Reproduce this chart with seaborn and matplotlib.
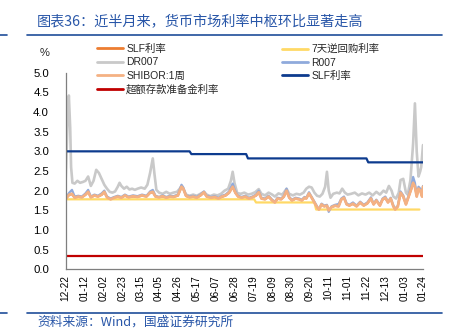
import numpy as np
import pandas as pd
import matplotlib
matplotlib.use("Agg")
import matplotlib.pyplot as plt
import seaborn as sns
from matplotlib.lines import Line2D
from matplotlib.ticker import FormatStrFormatter

# ---------------- data (x values are days since 2022-12-22) ----------------
START = pd.Timestamp("2022-12-22")
END = pd.Timestamp("2024-01-24")

tick_dates = ["2022-12-22", "2023-01-12", "2023-02-02", "2023-02-23", "2023-03-15",
              "2023-04-05", "2023-04-26", "2023-05-17", "2023-06-07", "2023-06-28",
              "2023-07-19", "2023-08-09", "2023-08-30", "2023-09-20", "2023-10-11",
              "2023-11-01", "2023-11-22", "2023-12-13", "2024-01-03", "2024-01-24"]
tick_labels = ["12-22", "01-12", "02-02", "02-23", "03-15", "04-05", "04-26", "05-17",
               "06-07", "06-28", "07-19", "08-09", "08-30", "09-20", "10-11", "11-01",
               "11-22", "12-13", "01-03", "01-24"]

# DR007
dr_days = [0, 2, 3.5, 5, 6, 7.5, 10, 13, 16, 19, 22, 25, 28, 31, 34, 37, 40, 43, 46, 49,
           52, 55, 58, 60, 62, 65, 68, 71, 74, 77, 80, 84, 88, 91, 94, 97, 99, 101, 104, 108,
           112, 116, 120, 124, 127, 129, 131, 134, 138, 142, 146, 150, 154, 157, 161, 165, 169, 173, 177, 181,
           184, 186, 188, 191, 195, 199, 203, 207, 211, 215, 218, 222, 226, 230, 233, 237, 241, 243, 246, 249,
           253, 257, 261, 265, 268, 271, 274, 277, 280, 283, 286, 289, 291, 293, 295, 298, 302, 305, 308, 311,
           314, 318, 322, 326, 330, 334, 338, 342, 346, 350, 354, 357, 360, 363, 365, 368, 371, 373, 376, 379,
           381, 384, 387, 389, 391, 393, 395, 396, 398]
dr007 = [2.30, 3.70, 4.42, 3.60, 2.60, 2.20, 2.18, 2.25, 2.20, 2.22, 2.25, 2.36, 2.12, 2.25, 2.53, 2.45, 2.30, 2.15, 2.05, 1.97,
         1.95, 1.98, 2.10, 2.20, 2.12, 2.05, 2.10, 2.03, 2.05, 2.02, 2.05, 2.08, 2.05, 2.15, 2.45, 2.82, 2.40, 2.02, 1.95, 1.92,
         1.97, 1.92, 1.95, 1.97, 2.05, 2.12, 2.05, 1.90, 1.87, 1.90, 1.87, 1.92, 1.97, 1.90, 1.86, 1.90, 1.88, 1.92, 2.00, 2.05,
         2.25, 2.48, 2.20, 1.94, 1.92, 1.95, 1.90, 1.92, 1.96, 2.04, 1.92, 1.88, 1.95, 1.90, 1.85, 1.93, 1.90, 1.95, 2.05, 1.92,
         1.88, 1.92, 1.90, 1.95, 2.05, 2.10, 2.08, 1.95, 1.87, 1.85, 1.92, 2.10, 2.48, 2.00, 1.82, 1.92, 1.95, 1.93, 2.05, 1.95,
         1.90, 1.92, 1.95, 1.88, 1.93, 1.90, 1.95, 1.88, 1.97, 1.90, 2.00, 1.95, 2.12, 2.00, 1.85, 1.80, 1.95, 2.27, 2.30, 1.95,
         1.90, 2.27, 3.20, 4.22, 3.00, 2.36, 2.50, 2.60, 3.16]

# SHIBOR 1W, R007 and the orange SLF series share observation days
obs_days = [0, 2, 4, 7, 10, 14, 18, 22, 25, 28, 32, 36, 40, 43, 46, 50, 54, 58, 62, 66,
            70, 75, 80, 85, 90, 94, 97, 100, 104, 108, 112, 116, 120, 125, 129, 131, 134, 138, 142, 146,
            150, 154, 157, 162, 166, 170, 174, 178, 182, 186, 189, 192, 196, 200, 204, 208, 212, 215, 218, 222,
            226, 230, 233, 236, 240, 243, 246, 249, 252, 256, 260, 263, 266, 268, 271, 274, 277, 280, 282, 285,
            288, 291, 293, 296, 300, 304, 307, 310, 313, 316, 320, 324, 328, 332, 336, 340, 343, 346, 350, 353,
            356, 359, 362, 365, 367, 370, 373, 376, 379, 382, 385, 387, 389, 391, 393, 395, 397, 398]
shibor_1w = [1.78, 1.85, 1.90, 1.92, 1.82, 1.85, 1.83, 1.90, 1.97, 1.83, 1.88, 1.85, 1.90, 1.97, 1.83, 1.78, 1.82, 1.85, 1.82, 1.88,
             1.83, 1.86, 1.84, 1.88, 1.85, 1.95, 1.97, 1.85, 1.83, 1.86, 1.82, 1.85, 1.84, 1.88, 2.10, 2.05, 1.87, 1.83, 1.85, 1.82,
             1.88, 1.96, 1.85, 1.82, 1.84, 1.80, 1.85, 1.88, 1.95, 2.10, 1.95, 1.85, 1.82, 1.85, 1.80, 1.83, 1.88, 1.96, 1.80, 1.78,
             1.85, 1.75, 1.70, 1.80, 1.78, 1.85, 2.00, 1.82, 1.75, 1.80, 1.78, 1.75, 1.82, 1.80, 1.93, 1.82, 1.70, 1.58, 1.52, 1.65,
             1.60, 1.62, 1.50, 1.58, 1.62, 1.60, 1.78, 1.82, 1.65, 1.62, 1.67, 1.60, 1.70, 1.62, 1.68, 1.80, 1.65, 1.75, 1.62, 1.78,
             1.82, 1.70, 1.80, 1.60, 1.52, 1.60, 1.95, 1.85, 1.65, 1.85, 2.05, 2.20, 2.10, 1.85, 2.05, 2.00, 1.85, 2.10]
r007 = [1.80, 1.88, 1.95, 2.02, 1.85, 1.87, 1.85, 1.93, 2.02, 1.85, 1.90, 1.87, 1.93, 2.00, 1.85, 1.80, 1.84, 1.87, 1.84, 1.90,
        1.85, 1.88, 1.86, 1.90, 1.87, 1.98, 2.02, 1.87, 1.84, 1.88, 1.84, 1.87, 1.86, 1.90, 2.15, 2.08, 1.88, 1.85, 1.87, 1.84,
        1.90, 1.98, 1.87, 1.84, 1.86, 1.82, 1.87, 1.90, 1.98, 2.18, 1.98, 1.87, 1.84, 1.87, 1.82, 1.85, 1.90, 2.00, 1.82, 1.80,
        1.87, 1.77, 1.72, 1.82, 1.80, 1.87, 2.05, 1.84, 1.77, 1.82, 1.80, 1.77, 1.84, 1.82, 1.96, 1.84, 1.72, 1.60, 1.53, 1.67,
        1.62, 1.64, 1.46, 1.60, 1.64, 1.66, 1.80, 1.85, 1.67, 1.64, 1.70, 1.62, 1.72, 1.64, 1.70, 1.83, 1.67, 1.77, 1.64, 1.80,
        1.85, 1.72, 1.82, 1.62, 1.54, 1.62, 1.98, 1.88, 1.67, 1.88, 2.12, 2.35, 2.20, 1.90, 2.10, 2.05, 1.90, 2.12]
slf_orange = [1.78, 1.84, 1.89, 1.91, 1.82, 1.84, 1.83, 1.89, 1.96, 1.83, 1.87, 1.85, 1.89, 1.96, 1.83, 1.78, 1.82, 1.84, 1.82, 1.87,
              1.83, 1.85, 1.84, 1.87, 1.85, 1.94, 1.96, 1.85, 1.83, 1.85, 1.82, 1.84, 1.84, 1.87, 2.09, 2.04, 1.86, 1.83, 1.84, 1.82,
              1.87, 1.95, 1.85, 1.82, 1.83, 1.80, 1.84, 1.87, 1.94, 2.09, 1.94, 1.85, 1.82, 1.84, 1.80, 1.83, 1.87, 1.95, 1.80, 1.78,
              1.84, 1.75, 1.70, 1.79, 1.78, 1.84, 1.99, 1.82, 1.75, 1.79, 1.78, 1.75, 1.81, 1.80, 1.92, 1.82, 1.70, 1.58, 1.52, 1.64,
              1.60, 1.62, 1.50, 1.58, 1.61, 1.60, 1.77, 1.81, 1.65, 1.62, 1.66, 1.60, 1.69, 1.62, 1.67, 1.79, 1.65, 1.74, 1.62, 1.77,
              1.81, 1.70, 1.79, 1.60, 1.52, 1.60, 1.94, 1.84, 1.65, 1.84, 2.04, 2.19, 2.09, 1.85, 2.04, 1.99, 1.85, 2.09]

# 7-day reverse repo rate (step changes)
rr_days = [0, 210, 212, 277, 279, 394]
reverse_repo_7d = [1.78, 1.78, 1.70, 1.70, 1.52, 1.52]

# SLF rate (dark blue, step changes)
slf_days = [0, 138, 140, 201, 203, 335, 337, 398]
slf_rate = [3.00, 3.00, 2.93, 2.93, 2.82, 2.82, 2.72, 2.72]

# Excess reserve rate
er_days = [0, 398]
excess_reserve = [0.35, 0.35]

# ---------------- figure ----------------
sns.set_theme(style="white")
plt.rcParams["font.family"] = ["Liberation Sans", "Noto Sans CJK SC", "DejaVu Sans"]

W, H = 451, 336
fig = plt.figure(figsize=(W / 100, H / 100), dpi=100)
ax = fig.add_axes([65.7 / W, 1 - 269.3 / H, (423 - 65.7) / W, (269.3 - 72.7) / H])


def to_dates(days):
    return START + pd.to_timedelta(np.asarray(days, dtype=float), unit="D")


c_orange = "#ED7D31"
c_yellow = "#FFD966"
c_gray = "#C9C9C9"
c_lblue = "#8FAADC"
c_salmon = "#F4B183"
c_navy = "#0D3B8E"
c_red = "#C00000"

series = [
    ("SLF利率", obs_days, slf_orange, c_orange, 1.4),
    ("7天逆回购利率", rr_days, reverse_repo_7d, c_yellow, 1.6),
    ("DR007", dr_days, dr007, c_gray, 1.9),
    ("R007", obs_days, r007, c_lblue, 1.6),
    ("SHIBOR:1周", obs_days, shibor_1w, c_salmon, 2.0),
    ("SLF利率 ", slf_days, slf_rate, c_navy, 1.6),
    ("超额存款准备金利率", er_days, excess_reserve, c_red, 1.6),
]
handles = {}
for name, d, v, c, lw in series:
    sns.lineplot(x=to_dates(d), y=v, ax=ax, color=c, linewidth=lw, estimator=None,
                 label=name, legend=False)
    handles[name] = Line2D([], [], color=c, linewidth=2.0)

ax.set_xlim(START, END)
ax.set_ylim(0, 5)
ax.set_yticks(np.arange(0, 5.01, 0.5))
ax.yaxis.set_major_formatter(FormatStrFormatter("%.1f"))
ax.set_xticks(pd.to_datetime(tick_dates))
ax.set_xticklabels(tick_labels, rotation=90)
ax.set_xlabel("")
ax.set_ylabel("")
ax.tick_params(axis="x", length=0, pad=4, labelsize=7.2, colors="#000000")
ax.tick_params(axis="y", direction="in", length=3, width=0.8, color="#7F7F7F",
               pad=12, labelsize=8.2, labelcolor="#000000")
for s in ["top", "right"]:
    ax.spines[s].set_visible(False)
for s in ["left", "bottom"]:
    ax.spines[s].set_color("#7F7F7F")
    ax.spines[s].set_linewidth(0.9)
ax.grid(False)

# legends in two columns
col1 = ["SLF利率", "DR007", "SHIBOR:1周", "超额存款准备金利率"]
col2 = ["7天逆回购利率", "R007", "SLF利率 "]
leg_kw = dict(loc="upper left", frameon=False, fontsize=7.5, borderpad=0, borderaxespad=0,
              handlelength=2.5, handletextpad=0.3, labelspacing=0.32)
leg1 = fig.legend([handles[k] for k in col1], [k.strip() for k in col1],
                  bbox_to_anchor=(97 / W, 1 - 44 / H), **leg_kw)
leg2 = fig.legend([handles[k] for k in col2], [k.strip() for k in col2],
                  bbox_to_anchor=(282 / W, 1 - 44 / H), **leg_kw)

fig.text(45 / W, 1 - 53.3 / H, "%", ha="center", va="center", fontsize=8)

# header and footer
blue = "#2856A8"
fig.text(37 / W, 1 - 22.5 / H, "图表36：近半月来，货币市场利率中枢环比显著走高",
         ha="left", va="center", fontsize=10.2, color=blue,
         family=["Noto Sans CJK SC", "DejaVu Sans"])
fig.text(37 / W, 1 - 321.7 / H, "资料来源：Wind，国盛证券研究所",
         ha="left", va="center", fontsize=9.2, color=blue,
         family=["Noto Sans CJK SC", "DejaVu Sans"])
for yy in (35, 312.7):
    fig.add_artist(Line2D([27 / W, 442 / W], [1 - yy / H] * 2, color="#1F4E9A", lw=1.2))
    fig.add_artist(Line2D([0, 7 / W], [1 - yy / H] * 2, color="#1F4E9A", lw=1.2))

fig.savefig("out.png", dpi=100)
